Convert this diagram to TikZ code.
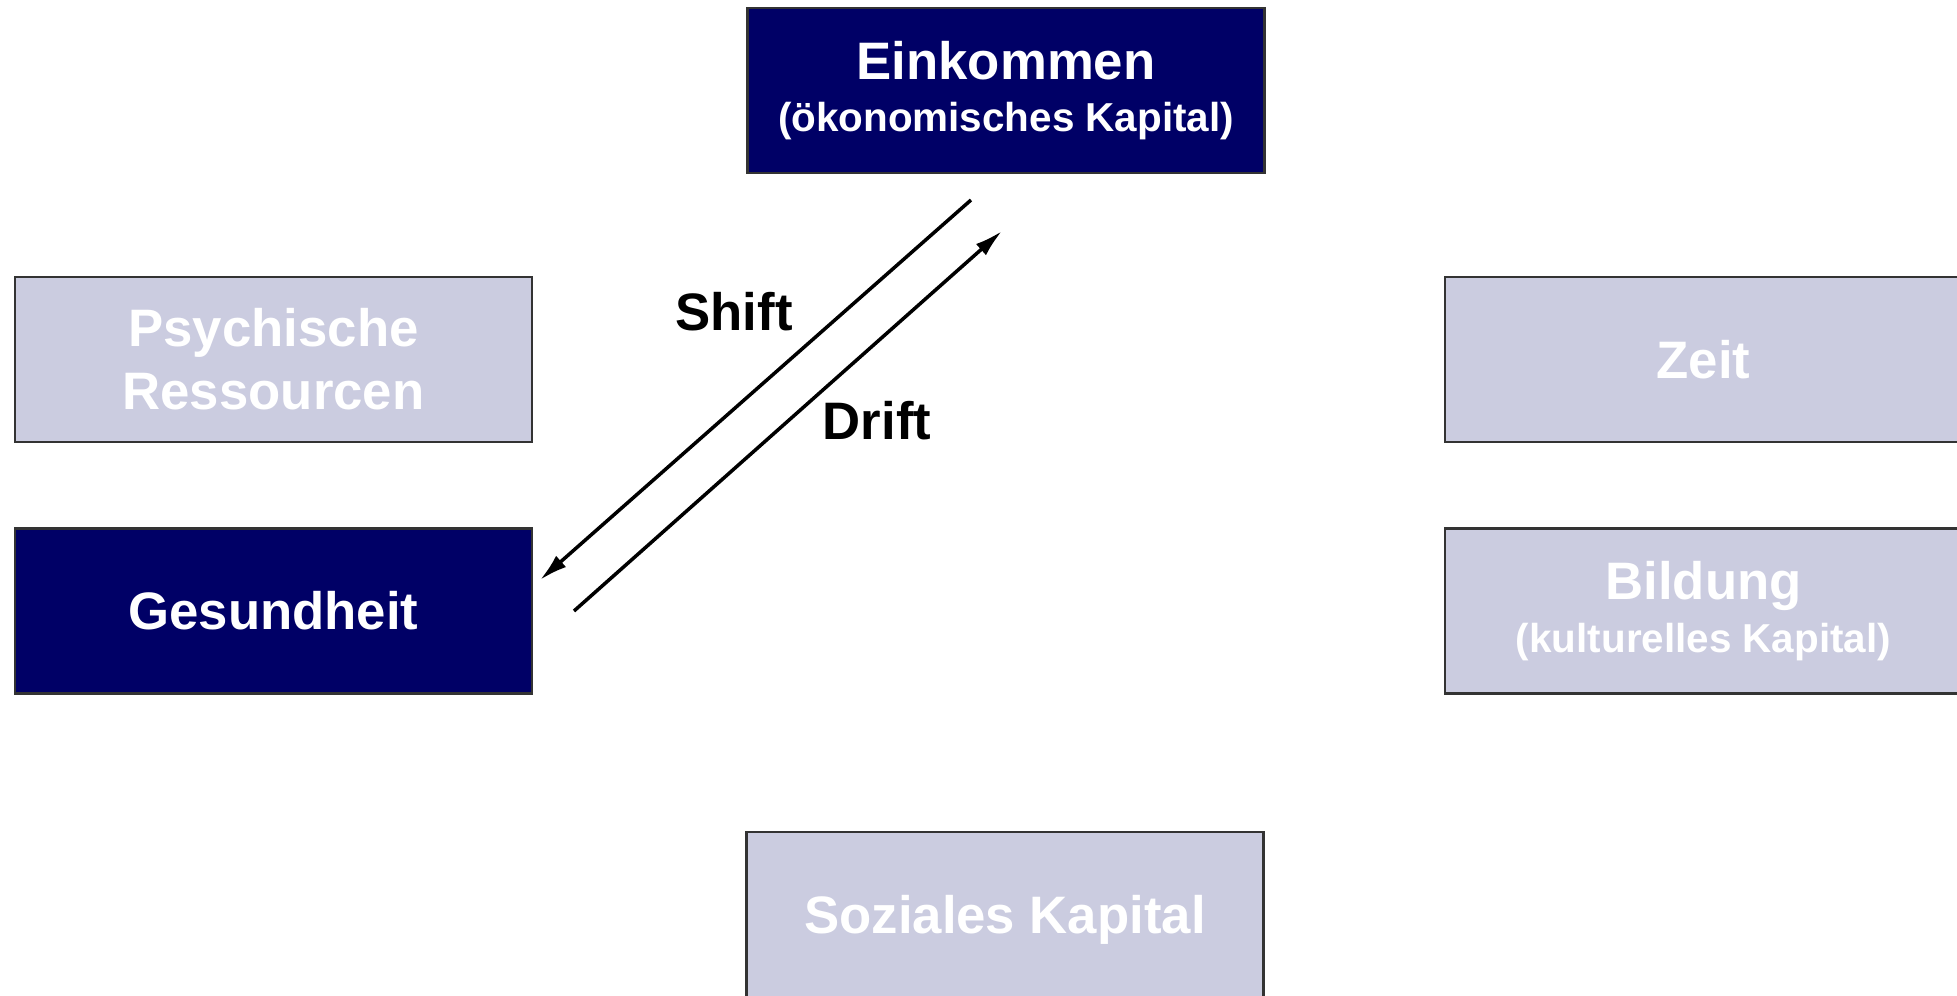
\documentclass[tikz,border=0pt]{standalone}
\usepackage{fontspec}
\setmainfont{Liberation Sans}
\usepackage{tikz}
\usetikzlibrary{arrows.meta,positioning}
\definecolor{cDark}{HTML}{000066}
\definecolor{cPale}{HTML}{CBCCE0}
\tikzset{
  res/.style={rectangle,draw=black!80,line width=.6pt,minimum width=5.17cm,minimum height=1.65cm,
    align=center,text=white,inner sep=2pt,font=\fontsize{15}{18}\selectfont\bfseries},
  dark/.style={res,fill=cDark},
  pale/.style={res,fill=cPale},
  lbl/.style={font=\fontsize{15}{18}\selectfont\bfseries},
  arr/.style={-{Latex[length=2.8mm,width=1.5mm]},line width=1pt,black},
}
\newcommand{\subline}[1]{{\fontsize{11.5}{14}\selectfont #1}}

\begin{document}
\begin{tikzpicture}
  \useasboundingbox (0,0) rectangle (19.57,9.96);
  % resources
  \node[dark] (ein) at (10.06,9.055) {Einkommen\\[-3pt]\subline{(ökonomisches Kapital)}};
  \node[pale] (psy) at (2.735,6.365) {Psychische\\Ressourcen};
  \node[dark] (ges) at (2.735,3.85) {Gesundheit};
  \node[pale] (zeit) at (17.035,6.365) {Zeit};
  \node[pale] (bild) at (17.035,3.85) {Bildung\\[-3pt]\subline{(kulturelles Kapital)}};
  \node[pale,minimum height=1.76cm] (soz) at (10.05,0.76) {Soziales Kapital};
  % shift and drift
  \coordinate (s1) at (9.71,7.96);
  \coordinate (s2) at (5.40,4.16);
  \coordinate (d1) at (5.74,3.85);
  \coordinate (d2) at (10.02,7.65);
  \draw[arr] (s1) -- (s2);
  \draw[arr] (d1) -- (d2);
  \node[lbl] (shift) at (7.34,6.84) {Shift};
  \node[lbl] (drift) at (8.77,5.75) {Drift};
\end{tikzpicture}
\end{document}
